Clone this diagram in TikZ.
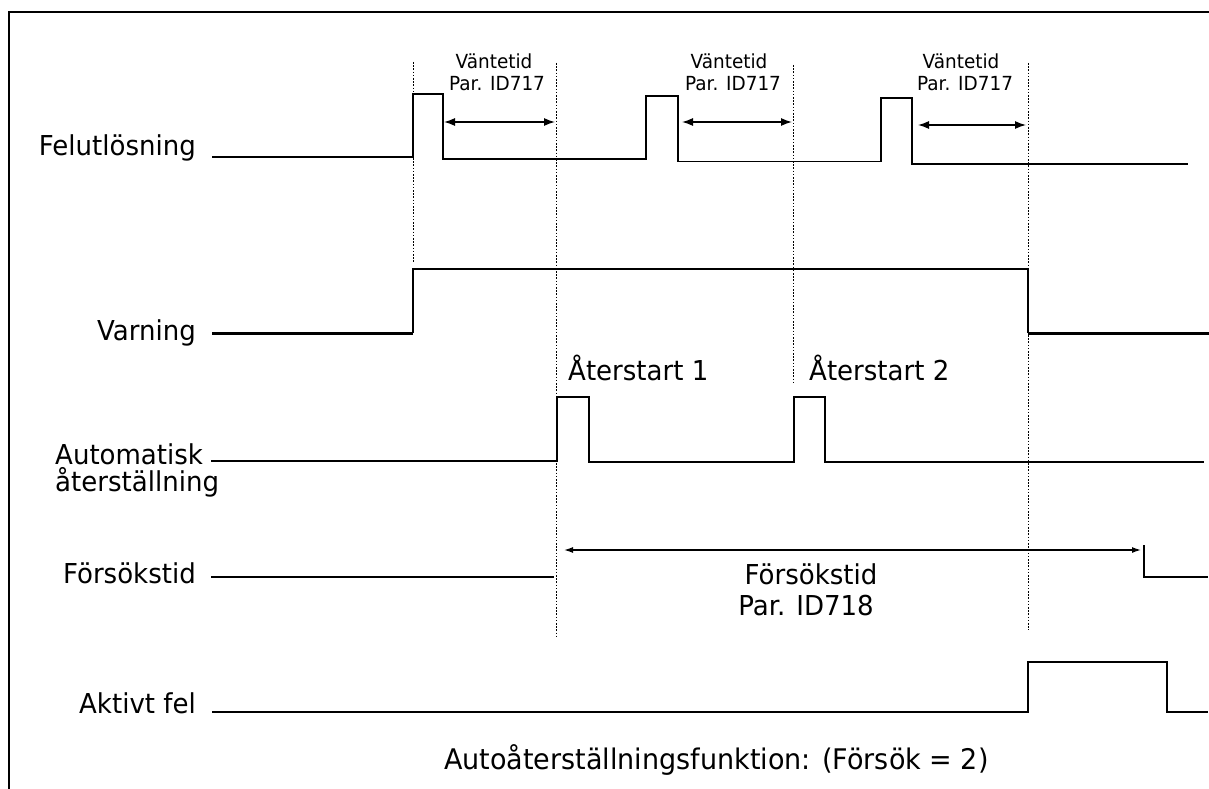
\documentclass[tikz,border=0pt]{standalone}
\usepackage{fontspec}
\setmainfont{DejaVu Sans}[FakeStretch=0.95]
\usetikzlibrary{arrows.meta}
\begin{document}
\begin{tikzpicture}[x=1pt,y=-1pt,
  sig/.style={line width=1.4pt, line join=miter},
  heavysig/.style={line width=3pt},
  guide/.style={line width=0.9pt, dash pattern=on 1.6pt off 1.6pt},
  dimarrow/.style={line width=1.3pt, {Latex[length=11pt,width=8pt]}-{Latex[length=11pt,width=8pt]}},
  longarrow/.style={line width=1.3pt, {Latex[length=9pt,width=6pt]}-{Latex[length=9pt,width=6pt]}},
  biglabel/.style={font=\fontsize{27.4}{30}\selectfont, inner sep=0pt},
  caplabel/.style={font=\fontsize{28.4}{31}\selectfont, inner sep=0pt},
  smalllabel/.style={font=\fontsize{19.4}{21}\selectfont, inner sep=0pt},
]
\useasboundingbox (0,0) rectangle (1209,789);
\fill[white] (0,0) rectangle (1209,789);
% frame
\draw[line width=1.2pt] (9,789) -- (9,12) -- (1209,12);

% row labels
\node[biglabel, anchor=base east] (felL) at (196,155) {Felutlösning};
\node[biglabel, anchor=base east] (varL) at (196,340) {Varning};
\node[biglabel, anchor=base west] (autoLa) at (55,464) {Automatisk};
\node[biglabel, anchor=base west] (autoLb) at (55,491) {återställning};
\node[biglabel, anchor=base east] (forL) at (196,583) {Försökstid};
\node[biglabel, anchor=base east] (aktL) at (196,713) {Aktivt fel};

% other labels
\node[biglabel, anchor=base west] (reA) at (568,380) {Återstart 1};
\node[biglabel, anchor=base west] (reB) at (809,380) {Återstart 2};
\node[biglabel, anchor=base] (ftA) at (811,584) {Försökstid};
\node[biglabel, anchor=base] (ftB) at (806,615) {Par. ID718};
\node[caplabel, anchor=base west] (cap) at (444,769) {Autoåterställningsfunktion: (Försök = 2)};

\node[smalllabel, anchor=base] (wAa) at (494,69) {Väntetid};
\node[smalllabel, anchor=base] (wAb) at (497,91) {Par. ID717};
\node[smalllabel, anchor=base] (wBa) at (729,69) {Väntetid};
\node[smalllabel, anchor=base] (wBb) at (733,91) {Par. ID717};
\node[smalllabel, anchor=base] (wCa) at (961,69) {Väntetid};
\node[smalllabel, anchor=base] (wCb) at (965,91) {Par. ID717};

% dotted guides
\draw[guide] (413,62) -- (413,262);
\draw[guide] (556,63) -- (556,638);
\draw[guide] (793,65) -- (793,383);
\draw[guide] (1028,63) -- (1028,630);

% Felutlosning
\draw[sig] (212,157) -- (413,157) -- (413,94) -- (443,94) -- (443,159) -- (646,159) -- (646,96) -- (678,96) -- (678,161.5) -- (881,161.5) -- (881,98) -- (912,98) -- (912,164) -- (1188,164);

% Varning
\draw[heavysig] (212,333) -- (413,333);
\draw[sig] (413,333) -- (413,269) -- (1028,269) -- (1028,333);
\draw[heavysig] (1028,333) -- (1209,333);

% Automatisk aterstallning
\draw[sig] (211,461) -- (557,461) -- (557,397) -- (589,397) -- (589,462) -- (794,462) -- (794,397) -- (825,397) -- (825,462) -- (1204,462);

% Forsokstid
\draw[sig] (211,577) -- (554,577);
\draw[sig] (1144,545) -- (1144,577) -- (1208,577);

% Aktivt fel
\draw[sig] (212,712) -- (1028,712) -- (1028,662) -- (1167,662) -- (1167,712) -- (1208,712);

% dimension arrows
\coordinate (aAs) at (444,122); \coordinate (aAe) at (555,122);
\coordinate (aBs) at (682,122); \coordinate (aBe) at (792,122);
\coordinate (aCs) at (918,125); \coordinate (aCe) at (1026,125);
\coordinate (fS) at (564,550); \coordinate (fE) at (1141,550);
\draw[dimarrow] (aAs) -- (aAe);
\draw[dimarrow] (aBs) -- (aBe);
\draw[dimarrow] (aCs) -- (aCe);
\draw[longarrow] (fS) -- (fE);
\end{tikzpicture}
\end{document}
